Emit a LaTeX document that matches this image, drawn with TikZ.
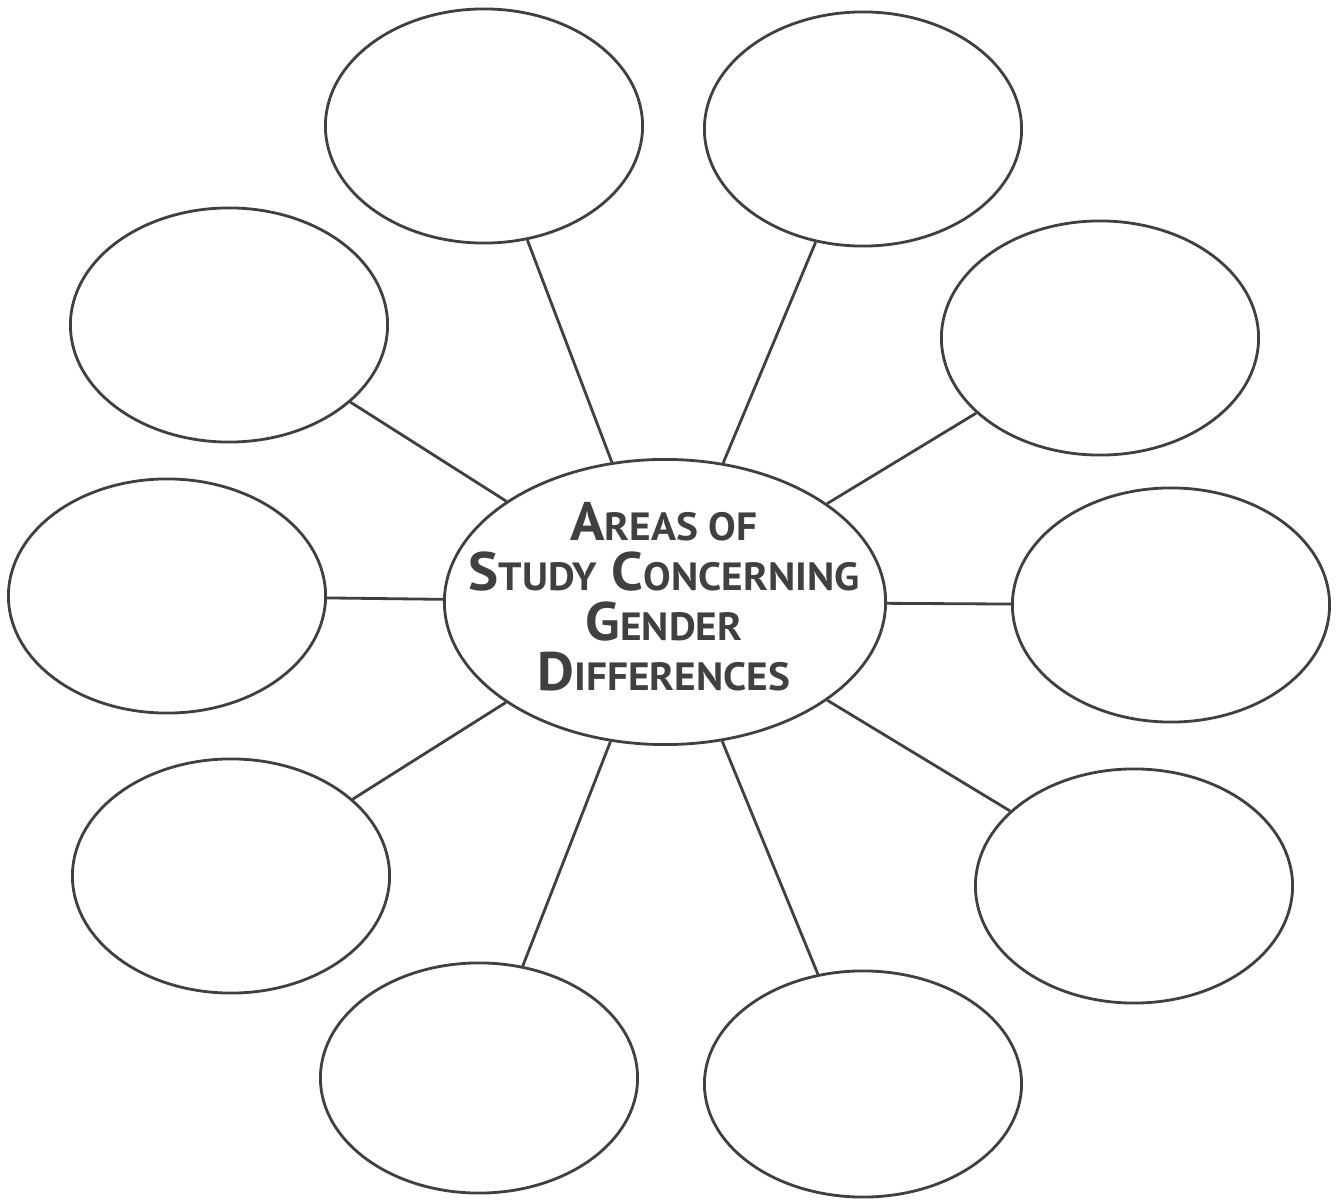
\documentclass[tikz,border=0pt]{standalone}
\usepackage{fontspec}
\setmainfont{PT Sans}[FakeStretch=1.05]
\usetikzlibrary{shapes.geometric}
\newcommand\mysc[2]{{\fontsize{15.4}{14.2}\selectfont #1}{\fontsize{11.2}{14.2}\selectfont #2}}
\definecolor{ink}{gray}{0.25}
\tikzset{
  bubble/.style={ellipse, draw=ink, line width=0.8pt, inner sep=0pt},
  sat/.style={bubble, minimum width=3.17cm, minimum height=2.34cm},
  spoke/.style={draw=ink, line width=0.8pt},
  title/.style={align=center, text=ink, font=\fontsize{15.4}{14.2}\selectfont\bfseries, inner sep=0pt}
}
\begin{document}
\begin{tikzpicture}[x=0.01cm, y=-0.01cm]
\useasboundingbox (0,0) rectangle (1341,1203);
\node[bubble, minimum width=4.41cm, minimum height=2.85cm] (c) at (665,602) {};
\node[sat] (e1) at (484,126) {};
\node[sat] (e2) at (863,129) {};
\node[sat] (e3) at (229,325) {};
\node[sat] (e4) at (1100,338) {};
\node[sat] (e5) at (167,596) {};
\node[sat] (e6) at (1171,605) {};
\node[sat] (e7) at (231,876) {};
\node[sat] (e8) at (1134,886) {};
\node[sat, minimum height=2.30cm] (e9) at (479,1078) {};
\node[sat, minimum height=2.26cm] (e10) at (863,1084) {};
\foreach \e in {e1,e2,e3,e4,e5,e6,e7,e8,e9,e10}
  \draw[spoke] (c) -- (\e);
\node[title] (t) at (664,597) {\mysc{A}{REAS OF}\\\mysc{S}{TUDY} \mysc{C}{ONCERNING}\\\mysc{G}{ENDER}\\\mysc{D}{IFFERENCES}};
\end{tikzpicture}
\end{document}
